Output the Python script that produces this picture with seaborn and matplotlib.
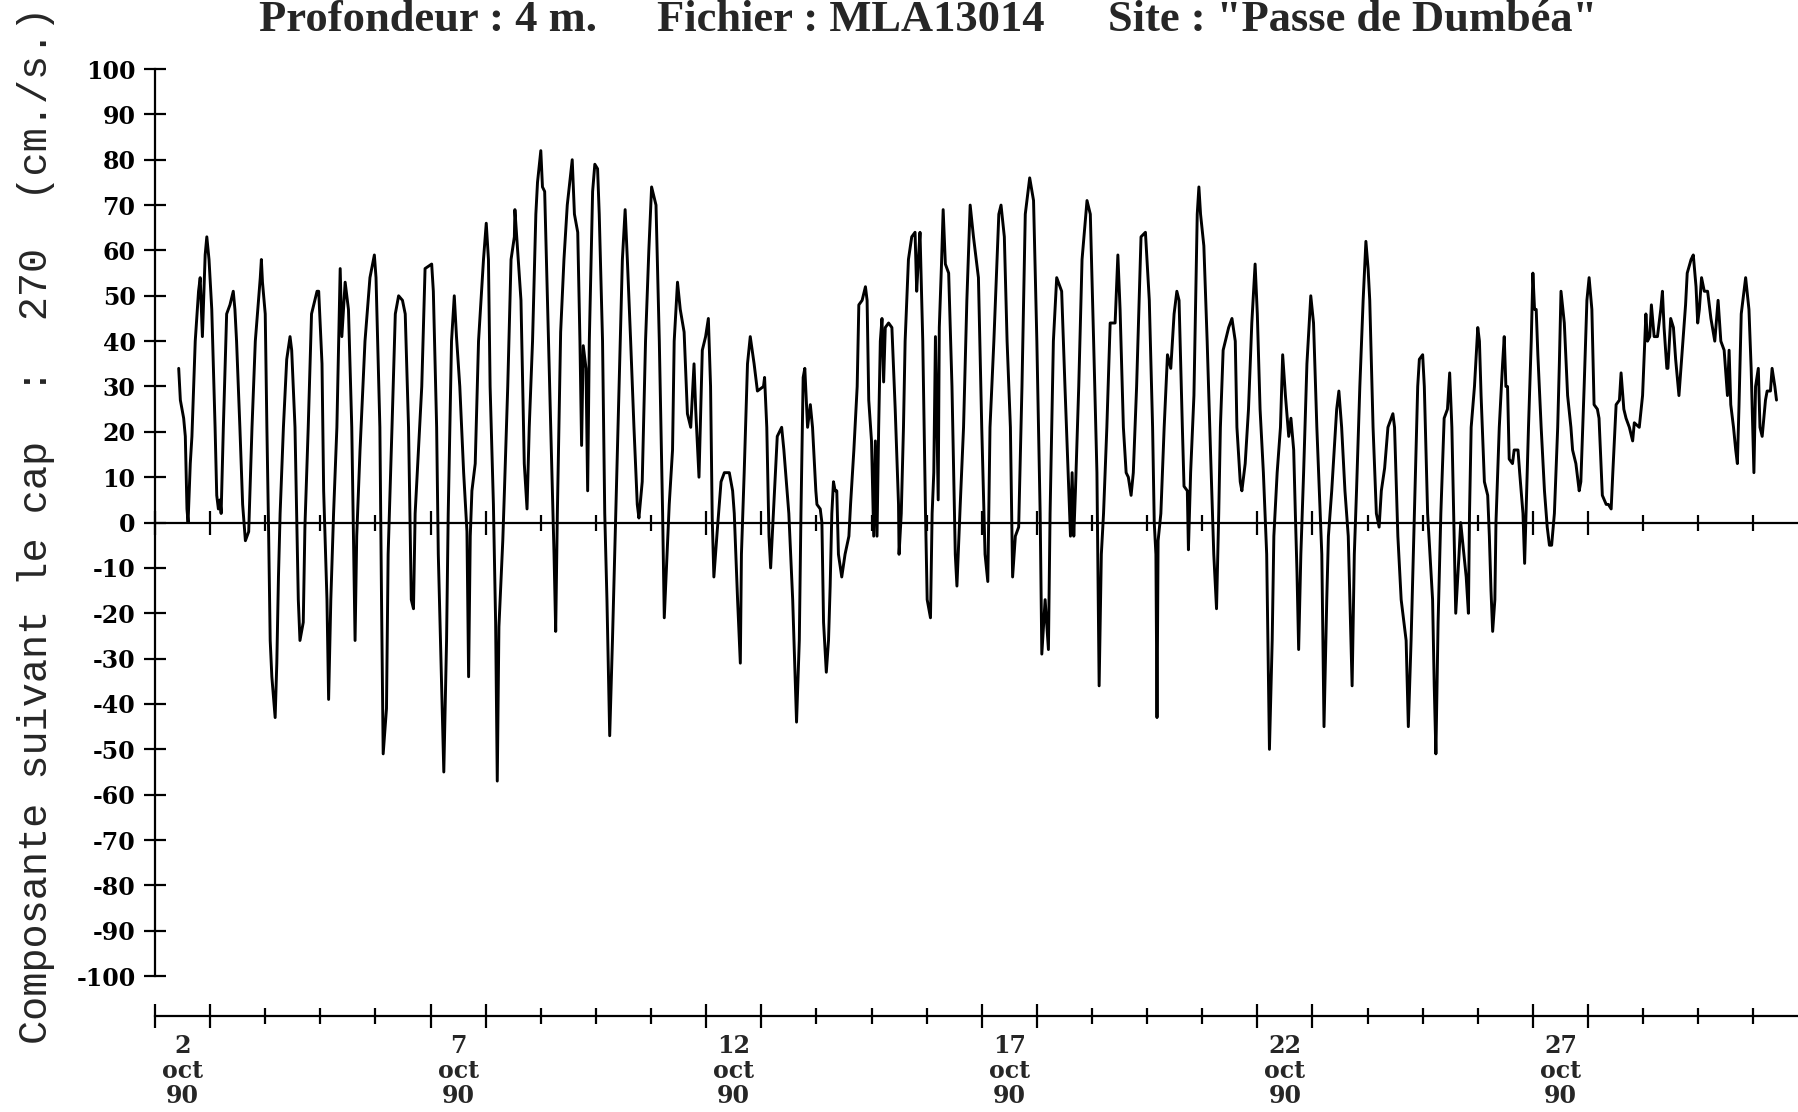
import pandas as pd
import seaborn as sns
import matplotlib.pyplot as plt

# Releve courantometre : jour d'octobre 1990 (fractionnaire) et composante (cm/s)
jour = [
    2.43, 2.46, 2.52, 2.55, 2.58, 2.60, 2.64, 2.67, 2.73, 2.79,
    2.82, 2.86, 2.91, 2.94, 2.98, 3.03, 3.09, 3.12, 3.15, 3.18,
    3.20, 3.24, 3.30, 3.36, 3.42, 3.45, 3.48, 3.54, 3.59, 3.64,
    3.70, 3.76, 3.82, 3.91, 3.93, 3.95, 4.00, 4.03, 4.06, 4.09,
    4.12, 4.18, 4.21, 4.24, 4.27, 4.33, 4.39, 4.45, 4.48, 4.54,
    4.57, 4.60, 4.63, 4.69, 4.72, 4.78, 4.84, 4.94, 4.97, 5.03,
    5.06, 5.12, 5.15, 5.19, 5.24, 5.30, 5.36, 5.39, 5.45, 5.51,
    5.57, 5.63, 5.66, 5.72, 5.81, 5.90, 5.98, 6.01, 6.08, 6.11,
    6.14, 6.20, 6.23, 6.30, 6.36, 6.42, 6.49, 6.54, 6.60, 6.65,
    6.69, 6.72, 6.84, 6.90, 7.02, 7.05, 7.11, 7.14, 7.20, 7.24,
    7.29, 7.32, 7.38, 7.43, 7.47, 7.53, 7.60, 7.66, 7.69, 7.72,
    7.75, 7.81, 7.87, 7.96, 8.01, 8.05, 8.08, 8.14,
    8.18, 8.21, 8.24, 8.31, 8.34, 8.40, 8.46, 8.52, 8.53, 8.58,
    8.64, 8.70, 8.75, 8.79, 8.85, 8.91, 8.94, 9.00, 9.03, 9.07,
    9.12, 9.18, 9.24, 9.27, 9.30, 9.36, 9.42, 9.48, 9.57, 9.61,
    9.67, 9.71, 9.74, 9.77, 9.82, 9.85, 9.88, 9.94, 9.98, 10.03,
    10.06, 10.12, 10.16, 10.20, 10.25, 10.30, 10.36, 10.42, 10.48, 10.53,
    10.57, 10.63, 10.69, 10.75, 10.78, 10.84, 10.90, 10.96, 11.01, 11.09,
    11.15, 11.21, 11.24, 11.29, 11.33, 11.39, 11.42, 11.48, 11.53, 11.60,
    11.66, 11.72, 11.78, 11.81, 11.87, 11.93, 11.99, 12.04, 12.08, 12.11,
    12.14, 12.20, 12.27, 12.33, 12.42, 12.48, 12.51, 12.57, 12.62, 12.64,
    12.69, 12.75, 12.80, 12.87, 12.93, 13.04, 13.06, 13.10, 13.14, 13.17,
    13.22, 13.29, 13.37, 13.41, 13.50, 13.57, 13.64, 13.69, 13.72, 13.76,
    13.79, 13.84, 13.89, 13.93, 13.99,
    14.01, 14.07, 14.10, 14.13, 14.18, 14.22, 14.25, 14.28, 14.31, 14.34,
    14.37, 14.40, 14.46, 14.52, 14.59, 14.62, 14.68, 14.74, 14.77, 14.83,
    14.89, 14.92, 14.95, 15.00, 15.04, 15.07, 15.10, 15.13, 15.16, 15.19,
    15.22, 15.25, 15.31, 15.37, 15.43, 15.49, 15.50, 15.54, 15.58, 15.61,
    15.67, 15.73, 15.79, 15.82, 15.85, 15.88, 15.93, 15.98, 16.01, 16.07,
    16.10, 16.13, 16.16, 16.21, 16.23, 16.27, 16.30, 16.34, 16.40, 16.46,
    16.52, 16.55, 16.61, 16.67, 16.73, 16.79, 16.85, 16.94, 17.00, 17.06,
    17.11, 17.15, 17.22, 17.31, 17.35, 17.41, 17.46, 17.52, 17.56, 17.61,
    17.67, 17.73, 17.79, 17.87, 17.94, 18.00, 18.06, 18.09, 18.15, 18.21,
    18.24, 18.30, 18.36, 18.45, 18.51, 18.58, 18.61, 18.64, 18.67, 18.70,
    18.76, 18.82, 18.91, 18.97, 19.03, 19.09, 19.13, 19.17, 19.21, 19.27,
    19.33, 19.42, 19.47, 19.51, 19.57, 19.62, 19.66, 19.71, 19.75, 19.81,
    19.89, 19.97,
    20.04, 20.10, 20.13, 20.16, 20.18, 20.20, 20.25, 20.31, 20.37, 20.43,
    20.49, 20.54, 20.58, 20.64, 20.67, 20.73, 20.75, 20.79, 20.85, 20.91,
    20.94, 20.97, 21.03, 21.09, 21.15, 21.21, 21.26, 21.30, 21.33, 21.38,
    21.42, 21.48, 21.54, 21.60, 21.63, 21.69, 21.72, 21.78, 21.84, 21.90,
    21.96, 22.00, 22.05, 22.11, 22.17, 22.22, 22.27, 22.30, 22.36, 22.42,
    22.46, 22.51, 22.57, 22.61, 22.66, 22.69, 22.72, 22.75, 22.79, 22.84,
    22.90, 22.97, 23.02, 23.08, 23.14, 23.17, 23.21, 23.26, 23.29, 23.35,
    23.44, 23.48, 23.53, 23.59, 23.65, 23.72, 23.76, 23.80, 23.86, 23.92,
    23.97, 24.01, 24.04, 24.10, 24.16, 24.21, 24.25, 24.31, 24.37, 24.46,
    24.49, 24.55, 24.61, 24.70, 24.74, 24.79, 24.85, 24.91, 24.94, 25.00,
    25.03, 25.09, 25.18, 25.21, 25.24, 25.28, 25.33, 25.39, 25.45, 25.49,
    25.53, 25.57, 25.60, 25.66, 25.69,
    25.79, 25.83, 25.85, 25.88, 25.94, 26.00, 26.03, 26.06, 26.12, 26.18,
    26.21, 26.24, 26.27, 26.31, 26.33, 26.39, 26.45, 26.48, 26.51, 26.54,
    26.57, 26.63, 26.66, 26.73, 26.76, 26.82, 26.85, 26.88, 26.92, 26.97,
    27.00, 27.03, 27.06, 27.09, 27.15, 27.21, 27.26, 27.30, 27.34, 27.39,
    27.45, 27.48, 27.51, 27.57, 27.63, 27.69, 27.72, 27.78, 27.84, 27.87,
    27.93, 27.98, 28.02, 28.07, 28.11, 28.17, 28.20, 28.26, 28.33, 28.37,
    28.42, 28.45, 28.51, 28.57, 28.60, 28.65, 28.69, 28.75, 28.81, 28.84,
    28.93, 28.99, 29.05, 29.08, 29.12, 29.15, 29.20, 29.26, 29.32, 29.35,
    29.38, 29.43, 29.45, 29.50, 29.55, 29.59, 29.65, 29.71, 29.77, 29.80,
    29.87, 29.91, 29.96, 29.99, 30.02, 30.06, 30.11, 30.17, 30.23, 30.30,
    30.36, 30.41, 30.47, 30.53, 30.56, 30.59, 30.64, 30.68, 30.71, 30.74,
    30.78, 30.86, 30.92, 30.96, 31.01, 31.04, 31.09, 31.12, 31.16, 31.22,
    31.25, 31.31, 31.34, 31.39, 31.42,
]

vitesse = [
    34, 27, 23, 19, 3, 0, 13, 19, 40, 51,
    54, 41, 59, 63, 58, 47, 21, 6, 3, 5,
    2, 21, 46, 48, 51, 47, 40, 21, 4, -4,
    -2, 21, 40, 54, 58, 53, 46, 21, -1, -26,
    -34, -43, -31, -12, 2, 21, 36, 41, 38, 21,
    2, -17, -26, -22, -1, 21, 46, 51, 51, 35,
    7, -17, -39, -17, 2, 21, 56, 41, 53, 47,
    21, -26, -3, 16, 40, 54, 59, 54, 21, -17,
    -51, -41, -7, 21, 46, 50, 49, 46, 21, -17,
    -19, 2, 30, 56, 57, 51, 21, -7, -36, -55,
    -26, 2, 40, 50, 41, 30, 11, -2, -34, -3,
    7, 13, 40, 58, 66, 58, 30, 4,
    -22, -57, -23, -4, 7, 30, 58, 63, 69, 60,
    49, 13, 3, 21, 40, 68, 75, 82, 74, 73,
    49, 21, -7, -24, 2, 42, 58, 70, 80, 68,
    64, 40, 17, 39, 34, 7, 40, 73, 79, 78,
    68, 40, 2, -17, -47, -26, 2, 30, 58, 69,
    58, 40, 21, 4, 1, 9, 40, 60, 74, 70,
    40, 2, -21, -7, 4, 16, 40, 53, 47, 42,
    24, 21, 35, 25, 10, 38, 41, 45, 30, 1,
    -12, -2, 9, 11, 11, 7, 2, -17, -31, -7,
    11, 35, 41, 35, 29, 30, 32, 21, -3, -10,
    2, 19, 21, 16, 2, -17, -44, -26, 2, 32,
    34, 21, 26, 21, 7,
    4, 3, 0, -22, -33, -26, -14, 2, 9, 7,
    7, -7, -12, -7, -3, 4, 16, 30, 48, 49,
    52, 49, 27, 18, -3, 18, -3, 21, 40, 45,
    31, 43, 44, 43, 25, 4, -7, 2, 21, 40,
    58, 63, 64, 51, 58, 64, 40, 2, -17, -21,
    2, 11, 41, 5, 43, 57, 69, 57, 55, 30,
    -7, -14, 4, 21, 49, 70, 63, 54, 21, -7,
    -13, 21, 40, 68, 70, 63, 40, 21, -12, -3,
    -1, 30, 68, 76, 71, 40, 2, -29, -17, -28,
    2, 40, 54, 51, 30, 7, -3, 11, -3, 7,
    30, 58, 71, 68, 40, 11, -36, -7, 2, 21,
    44, 44, 59, 47, 21, 11, 10, 6, 11, 30,
    63, 64,
    49, 21, 0, -7, -43, -4, 2, 21, 37, 34,
    46, 51, 49, 21, 8, 7, -6, 11, 28, 68,
    74, 68, 61, 40, 16, -7, -19, 2, 21, 38,
    40, 43, 45, 40, 21, 9, 7, 13, 25, 44,
    57, 46, 25, 11, -7, -50, -26, -3, 11, 21,
    37, 28, 19, 23, 16, 2, -11, -28, -7, 11,
    35, 50, 44, 21, 2, -7, -45, -17, -3, 7,
    25, 29, 21, 7, -3, -36, -7, 7, 30, 49,
    62, 56, 49, 21, 2, -1, 7, 12, 21, 24,
    21, -3, -17, -26, -45, -26, 2, 30, 36, 37,
    30, 2, -17, -36, -51, -22, 2, 23, 25, 33,
    21, -3, -20, -7, 0,
    -12, -20, 2, 21, 30, 43, 40, 28, 9, 6,
    -3, -15, -24, -17, 0, 21, 35, 41, 30, 30,
    14, 13, 16, 16, 11, 2, -9, 4, 21, 40,
    55, 47, 47, 37, 21, 7, -1, -5, -5, 2,
    21, 35, 51, 44, 28, 21, 16, 13, 7, 9,
    30, 49, 54, 47, 26, 25, 23, 6, 4, 4,
    3, 11, 26, 27, 33, 25, 23, 21, 18, 22,
    21, 28, 46, 40, 41, 48, 41, 41, 47, 51,
    43, 34, 34, 45, 43, 36, 28, 38, 48, 55,
    58, 59, 52, 44, 47, 54, 51, 51, 45, 40,
    49, 40, 38, 28, 38, 26, 21, 16, 13, 26,
    46, 54, 47, 34, 11, 30, 34, 21, 19, 27,
    29, 29, 34, 30, 27,
]

jours_graduation = list(range(2, 32))
jours_etiquettes = [2, 7, 12, 17, 22, 27]
mois = "oct"
annee = "90"
graduations_y = list(range(-100, 101, 10))
titres = ["Profondeur : 4 m.", "Fichier : MLA13014", 'Site : "Passe de Dumbéa"']
legende_y = "Composante suivant le cap  :  270  (cm./s.)"

sns.set_style("white")
plt.rcParams['font.family'] = ['DejaVu Serif']
plt.rcParams['font.weight'] = 'bold'
plt.rcParams['axes.unicode_minus'] = False

W, H = 1798, 1112
fig = plt.figure(figsize=(W / 100, H / 100), dpi=100)
ax = fig.add_axes([155 / W, 96 / H, 1 - 155 / W, 976 / H])

df = pd.DataFrame({'jour': jour, 'vitesse': vitesse})
sns.lineplot(data=df, x='jour', y='vitesse', ax=ax, color='black',
             linewidth=2.1, estimator=None, sort=False)

ax.set_xlim(2, 31.81)
ax.set_ylim(-108.8, 106.4)
ax.set_xlabel('')
ax.set_ylabel('')

# axes : gauche borne a +/-100, haut ramene sur le zero
for s in ax.spines.values():
    s.set_color('black')
    s.set_linewidth(1.6)
ax.spines['right'].set_visible(False)
ax.spines['left'].set_bounds(-100, 100)
ax.spines['top'].set_position(('data', 0))

ax.set_yticks(graduations_y)
ax.tick_params(axis='y', left=True, right=False, direction='inout',
               length=16, width=1.6, pad=6, labelsize=17, colors='black')

# graduations journalieres, plus longues autour des jours etiquetes
longs = sorted(set(jours_etiquettes + [j + 1 for j in jours_etiquettes]))
ax.set_xticks(longs)
ax.set_xticks(jours_graduation, minor=True)
ax.tick_params(axis='x', which='both', bottom=True, top=True,
               labelbottom=False, labeltop=False, direction='inout',
               width=1.6, color='black')
ax.tick_params(axis='x', which='major', length=17)
ax.tick_params(axis='x', which='minor', length=12)

sec = ax.secondary_xaxis('bottom')
sec.set_xticks([j + 0.5 for j in jours_etiquettes],
               labels=[f"{j}\n{mois}\n{annee}" for j in jours_etiquettes])
sec.tick_params(length=0, pad=13, labelsize=17)
sec.spines['bottom'].set_visible(False)
for lbl in sec.get_xticklabels():
    lbl.set_linespacing(1.05)

fig.text(36 / W, 1 - 525 / H, legende_y, rotation=90, ha='center', va='center',
         family='Liberation Mono', fontweight='normal', fontsize=29)

for x0, t in zip([259, 657, 1108], titres):
    fig.text(x0 / W, 1 - 31 / H, t, ha='left', va='baseline',
             family='Liberation Serif', fontweight='bold', fontsize=32)

fig.savefig('out.png', dpi=100)
